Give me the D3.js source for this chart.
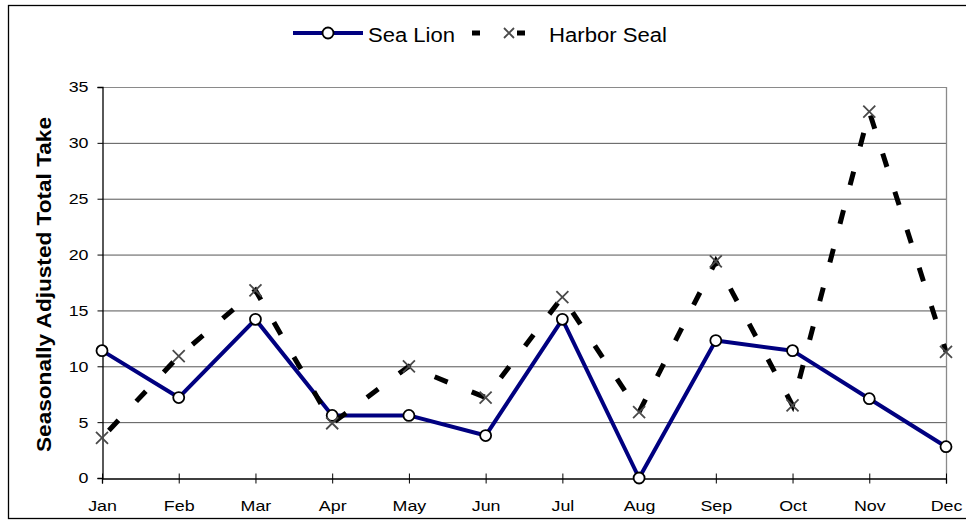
<!DOCTYPE html>
<html>
<head>
<meta charset="utf-8">
<script src="https://cdn.jsdelivr.net/npm/d3@7"></script>
<style>
  html, body { margin: 0; padding: 0; background: #fff; }
  svg { display: block; font-family: "Liberation Sans", Arial, sans-serif; }
</style>
</head>
<body>
<svg id="chart" width="966" height="521"></svg>
<script>
const months = ["Jan","Feb","Mar","Apr","May","Jun","Jul","Aug","Sep","Oct","Nov","Dec"];
const seaLion = [11.4, 7.2, 14.2, 5.6, 5.6, 3.8, 14.2, 0, 12.3, 11.4, 7.1, 2.8];
const harborSeal = [3.6, 10.9, 16.8, 4.9, 10.0, 7.2, 16.2, 5.9, 19.4, 6.5, 32.8, 11.3];
const yTicks = [0, 5, 10, 15, 20, 25, 30, 35];
const seriesNames = ["Sea Lion", "Harbor Seal"];
const yTitle = "Seasonally Adjusted Total Take";

(function () {
const svg = d3.select("#chart");
const pL = 102, pR = 946, pT = 87, pB = 478;
const stretch = 1.15;

// outer border
svg.append("rect").attr("x", 8.5).attr("y", 5.5).attr("width", 970).attr("height", 513)
  .attr("fill", "none").attr("stroke", "#000").attr("stroke-width", 1.3);

const x = d3.scalePoint().domain(months).range([pL, pR]);
const y = d3.scaleLinear().domain([0, 35]).range([pB, pT]);

// gridlines
svg.append("g").selectAll("line").data(yTicks.filter(d => d > 0)).join("line")
  .attr("x1", pL).attr("x2", pR)
  .attr("y1", d => y(d) + 0.5).attr("y2", d => y(d) + 0.5)
  .attr("stroke", d => d === 35 ? "#8a8a8a" : "#555").attr("stroke-width", 1);
// right plot edge
svg.append("line").attr("x1", pR + 0.5).attr("x2", pR + 0.5).attr("y1", pT).attr("y2", pB)
  .attr("stroke", "#8a8a8a").attr("stroke-width", 1.3);

function widen(sel) {
  sel.each(function () {
    const w = this.getComputedTextLength();
    d3.select(this).attr("textLength", w * stretch).attr("lengthAdjust", "spacingAndGlyphs");
  });
}

// y axis
const yAxis = svg.append("g").attr("transform", `translate(${pL + 0.5},0)`)
  .call(d3.axisLeft(y).tickValues(yTicks).tickSize(5).tickPadding(9).tickFormat(d3.format("d")));
yAxis.attr("font-size", 15.5).attr("font-family", "'Liberation Sans', Arial, sans-serif");
yAxis.select(".domain").attr("stroke", "#000").attr("stroke-width", 1.3);
yAxis.selectAll(".tick line").attr("stroke", "#000");
yAxis.selectAll("text").attr("fill", "#000").call(widen);

// x axis
const xAxis = svg.append("g").attr("transform", `translate(0,${pB + 0.5})`)
  .call(d3.axisBottom(x).tickSize(5).tickPadding(16));
xAxis.attr("font-size", 15.5).attr("font-family", "'Liberation Sans', Arial, sans-serif");
xAxis.select(".domain").attr("stroke", "#000").attr("stroke-width", 1.3);
xAxis.selectAll(".tick line").attr("stroke", "#000").attr("y1", -5).attr("y2", 5);
xAxis.selectAll("text").attr("fill", "#000").call(widen);

// y title
svg.append("text")
  .attr("transform", `translate(50.5,${(pT + pB) / 2 + 2}) rotate(-90)`)
  .attr("text-anchor", "middle").attr("font-size", 19.5).attr("font-weight", "bold")
  .attr("textLength", 335).attr("lengthAdjust", "spacingAndGlyphs")
  .text(yTitle);

const line = d3.line().x((d, i) => x(months[i])).y(d => y(d));

// sea lion line
svg.append("path").datum(seaLion).attr("d", line)
  .attr("fill", "none").attr("stroke", "#000080").attr("stroke-width", 4)
  .attr("stroke-linejoin", "round");

// harbor seal dashed line
svg.append("path").datum(harborSeal).attr("d", line)
  .attr("fill", "none").attr("stroke", "#000").attr("stroke-width", 5)
  .attr("stroke-dasharray", "14,26").attr("stroke-dashoffset", -10);

// sea lion markers
svg.append("g").selectAll("circle").data(seaLion).join("circle")
  .attr("cx", (d, i) => x(months[i])).attr("cy", d => y(d)).attr("r", 5.5)
  .attr("fill", "#fff").attr("stroke", "#000").attr("stroke-width", 1.8);

// harbor seal markers
const s = 6;
svg.append("g").selectAll("path").data(harborSeal).join("path")
  .attr("d", (d, i) => {
    const cx = x(months[i]), cy = y(d);
    return `M${cx - s},${cy - s}L${cx + s},${cy + s}M${cx - s},${cy + s}L${cx + s},${cy - s}`;
  })
  .attr("stroke", "#4a4a4a").attr("stroke-width", 1.8).attr("fill", "none");

// legend
const lg = svg.append("g");
lg.append("line").attr("x1", 293).attr("x2", 363).attr("y1", 33).attr("y2", 33)
  .attr("stroke", "#000080").attr("stroke-width", 4);
lg.append("circle").attr("cx", 328).attr("cy", 33).attr("r", 5.5)
  .attr("fill", "#fff").attr("stroke", "#000").attr("stroke-width", 1.8);
lg.append("text").attr("x", 368).attr("y", 41.5).attr("font-size", 20)
  .attr("textLength", 87).attr("lengthAdjust", "spacingAndGlyphs").text(seriesNames[0]);

lg.append("line").attr("x1", 472).attr("x2", 525).attr("y1", 33).attr("y2", 33)
  .attr("stroke", "#000").attr("stroke-width", 5).attr("stroke-dasharray", "8,37");
lg.append("path")
  .attr("d", `M${509 - 5},${33 - 5}L${509 + 5},${33 + 5}M${509 - 5},${33 + 5}L${509 + 5},${33 - 5}`)
  .attr("stroke", "#4a4a4a").attr("stroke-width", 1.8);
lg.append("text").attr("x", 549).attr("y", 41.5).attr("font-size", 20)
  .attr("textLength", 118).attr("lengthAdjust", "spacingAndGlyphs").text(seriesNames[1]);
})();
</script>
</body>
</html>
